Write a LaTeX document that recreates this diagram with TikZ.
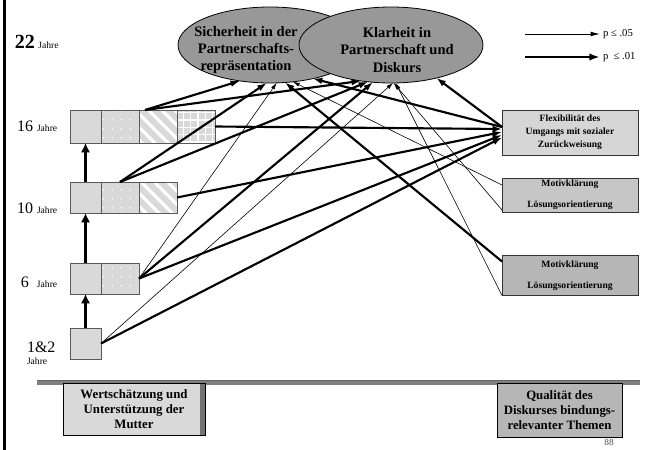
\documentclass[tikz,border=0pt]{standalone}
\usepackage{fontspec}
\setmainfont{Liberation Serif}
\usetikzlibrary{arrows.meta,patterns.meta,shapes.geometric,calc}
\definecolor{cellgray}{HTML}{D9D9D9}
\definecolor{ellgray}{HTML}{989898}
\definecolor{flexgray}{HTML}{D6D6D6}
\definecolor{motagray}{HTML}{C6C6C6}
\definecolor{motbgray}{HTML}{B6B6B6}
\definecolor{bargray}{HTML}{7F7F7F}
\newcommand\ellfnt{\fontsize{10.9}{12.8}\selectfont\bfseries}
\newcommand\boxfnt{\fontsize{7.2}{9.8}\selectfont\bfseries}
\newcommand\motfnt{\fontsize{7.2}{15.5}\selectfont\bfseries}
\newcommand\botfnt{\fontsize{9.6}{11.5}\selectfont\bfseries}
\newcommand\agefnt{\fontsize{12}{14}\selectfont}
\newcommand\jfnt{\normalfont\fontsize{7.2}{9}\selectfont}
\begin{document}
\begin{tikzpicture}[x=0.75pt,y=-0.75pt,
  thickarr/.style={line width=1.6pt,-{Latex[length=7pt,width=5pt]}},
  thinarr/.style={line width=0.45pt,-{Latex[length=5pt,width=3pt]}},
  vertarr/.style={line width=2.6pt,-{Latex[length=7pt,width=7pt]}},
  cell/.style={draw=black!65, line width=0.6pt, preaction={fill=cellgray}, inner sep=0pt, outer sep=0pt},
  wa/.style={cell, minimum width=23.25pt},
  wb/.style={cell, minimum width=28.5pt},
  hA/.style={minimum height=24.75pt},
  hB/.style={minimum height=23.25pt},
  dotsfill/.style={pattern={Dots[distance=6.5pt, radius=0.6pt]}, pattern color=white},
  stripefill/.style={pattern={Lines[angle=-45, distance=7pt, line width=2.4pt]}, pattern color=white},
  gridfill/.style={pattern={Hatch[distance=5.5pt, line width=1.1pt]}, pattern color=white},
  ell/.style={ellipse, draw=black, line width=0.6pt, fill=ellgray, minimum width=138pt, minimum height=57pt, inner sep=0pt, outer sep=0pt},
  rbox/.style={draw=black!80, line width=0.6pt, minimum width=102pt, inner sep=0pt, outer sep=0pt, align=center},
  txt/.style={inner sep=0pt, outer sep=0pt}
]
\useasboundingbox (0,0) rectangle (647,450);

% left border
\draw[line width=1.6pt] (4.5,0) -- (4.5,450);

% ellipses
\node[ell] (ellL) at (270,45) {};
\node[ell] (ellR) at (391,45) {};
\node[txt, align=center, font=\ellfnt] (ellLt) at (246,50) {Sicherheit in der\\Partnerschafts-\\repräsentation};
\node[txt, align=center, font=\ellfnt] (ellRt) at (397,50) {Klarheit in\\Partnerschaft und\\Diskurs};

% legend
\coordinate (lgAs) at (525,34); \coordinate (lgAe) at (600,34);
\coordinate (lgBs) at (525,57); \coordinate (lgBe) at (600,57);
\draw[line width=0.6pt,-{Latex[length=7pt,width=3.5pt]}] (lgAs) -- (lgAe);
\draw[line width=2pt,-{Latex[length=8pt,width=5.5pt]}] (lgBs) -- (lgBe);
\node[txt, anchor=west, font=\fontsize{8}{9}\selectfont] (lgAt) at (603,34) {p ≤ .05};
\node[txt, anchor=west, font=\fontsize{8}{9}\selectfont] (lgBt) at (603,57) {p \ ≤ .01};

% age labels
\node[txt, anchor=base west] (a22) at (15,48) {\fontsize{15}{17}\selectfont\bfseries 22\,\jfnt Jahre};
\node[txt, anchor=base west] (a16) at (17,131) {\agefnt 16 \jfnt Jahre};
\node[txt, anchor=base west] (a10) at (17,213) {\agefnt 10 \jfnt Jahre};
\node[txt, anchor=base west] (a6) at (21,287) {\agefnt 6\ \ \jfnt Jahre};
\node[txt, anchor=base west] (a1) at (27,352) {\agefnt 1\&2};
\node[txt, anchor=base west] (a1j) at (27,364) {\jfnt Jahre};

% left cells
\node[wa,hA] (r16a) at (85.5,126.5) {};
\node[wb,hA,dotsfill] (r16b) at (120,126.5) {};
\node[wb,hA,stripefill] (r16c) at (158,126.5) {};
\node[wb,hA,gridfill] (r16d) at (196,126.5) {};
\node[wa,hB] (r10a) at (85.5,197.5) {};
\node[wb,hB,dotsfill] (r10b) at (120,197.5) {};
\node[wb,hB,stripefill] (r10c) at (158,197.5) {};
\node[wa,hB] (r6a) at (85.5,278.5) {};
\node[wb,hB,dotsfill] (r6b) at (120,278.5) {};
\node[wa,hB] (r1) at (85.5,343.5) {};

% vertical arrows
\draw[vertarr] (r1.north) -- (r6a.south);
\draw[vertarr] (r6a.north) -- (r10a.south);
\draw[vertarr] (r10a.north) -- (r16a.south);

% right boxes
\node[rbox, fill=flexgray, minimum height=33.75pt, font=\boxfnt] (flex) at (570,132.5) {Flexibilität des\\Umgangs mit sozialer\\Zurückweisung};
\node[rbox, fill=motagray, minimum height=25.5pt, font=\motfnt] (mot1) at (570,195) {Motivklärung\\Lösungsorientierung};
\node[rbox, fill=motbgray, minimum height=30pt, font=\motfnt] (mot2) at (570,275.5) {Motivklärung\\Lösungsorientierung};

% connectors from left cells
\draw[thickarr] ($(r16c.north west)+(6,0)$) -- (ellL.-130);
\draw[thickarr] ($(r16c.north west)+(6,0)$) -- (ellR.-130);
\draw[thickarr] (r16d.east) -- ($(flex.west)+(0,-3.5)$);
\draw[thickarr] (r10b.north) -- (ellL.-95);
\draw[thickarr] (r10b.north) -- (ellR.-122);
\draw[thickarr] (r10c.east) -- ($(flex.west)+(0,-0.5)$);
\draw[thinarr] (r6b.east) -- (ellL.-80);
\draw[thickarr] (r6b.east) -- (ellR.-116);
\draw[thickarr] (r6b.east) -- ($(flex.west)+(0,2.5)$);
\draw[thinarr] (r1.east) -- (ellR.-87);
\draw[thickarr] (r1.east) -- ($(flex.west)+(0,5)$);

% connectors from right boxes
\draw[thickarr] ($(flex.west)+(0,-5.5)$) -- (ellL.-38);
\draw[thickarr] ($(flex.west)+(0,-5.5)$) -- (ellR.-36);
\draw[thinarr] ($(mot1.north west)+(0,7)$) -- (ellL.-58);
\draw[thinarr] ($(mot1.south west)+(0,-2)$) -- (ellR.-86);
\draw[thickarr] ($(mot2.north west)+(0,6)$) -- (ellL.-68);
\draw[thinarr] (mot2.south west) -- (ellR.-83);

% bottom bar and boxes
\fill[bargray] (37,380) rectangle (640,384.5);
\draw[black!60, line width=0.3pt] (37,380) -- (640,380);
\node[txt, font=\fontsize{7}{8}\selectfont, text=black!70] (pg) at (609,442) {88};
\node[draw=black, line width=0.6pt, fill=cellgray, minimum width=106.5pt, minimum height=39pt, inner sep=0pt, align=center, font=\botfnt,
  path picture={\fill[black!55] ([xshift=-3.6pt]path picture bounding box.north east) rectangle (path picture bounding box.south east);}]
  (bl) at (134,409) {Wertschätzung und\\Unterstützung der\\Mutter};
\node[draw=black, line width=0.6pt, fill=motbgray, minimum width=93.75pt, minimum height=40.5pt, inner sep=0pt, align=center, font=\botfnt]
  (br) at (559.5,410) {Qualität des\\Diskurses bindungs-\\relevanter Themen};
\end{tikzpicture}
\end{document}
